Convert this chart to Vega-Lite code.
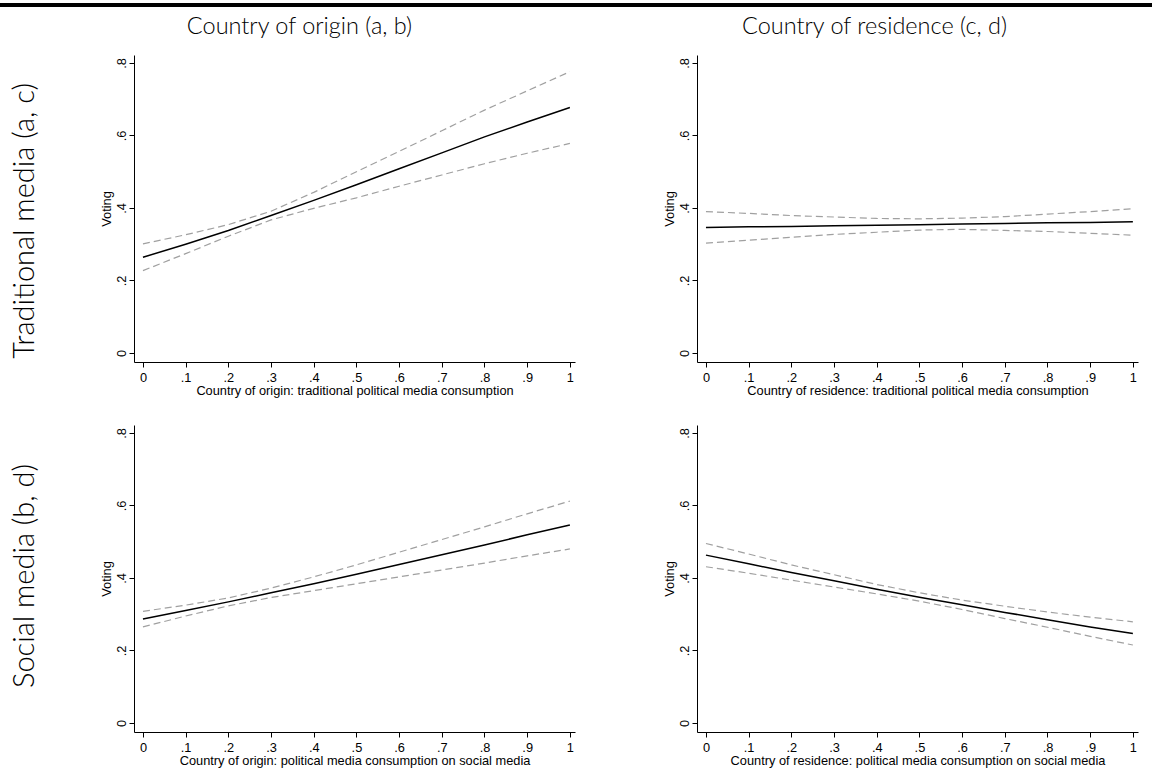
{
  "$schema": "https://vega.github.io/schema/vega-lite/v6.json",
  "background": "white",
  "padding": {"left": 0, "top": 3, "right": 0, "bottom": 0},
  "spacing": 8,
  "config": {
    "view": {"stroke": null},
    "axis": {"grid": false, "domainColor": "black", "domainWidth": 1, "tickColor": "black", "tickSize": 5, "tickWidth": 1, "labelFont": "Liberation Sans", "labelFontSize": 12.8, "labelColor": "black", "titleFont": "Liberation Sans", "titleFontSize": 12.8, "titleFontWeight": "normal", "titleColor": "black", "labelFlush": false, "labelOverlap": false},
    "axisX": {"labelPadding": 4, "titlePadding": 1, "labelAngle": 0},
    "axisY": {"labelAngle": 270, "labelAlign": "center", "labelBaseline": "alphabetic", "labelPadding": 4, "titlePadding": 2}
  },
  "datasets": {
    "m": [
      {"p": "a", "x": 0, "est": 0.264, "lo": 0.227, "hi": 0.301},
      {"p": "a", "x": 0.1, "est": 0.300, "lo": 0.274, "hi": 0.326},
      {"p": "a", "x": 0.2, "est": 0.338, "lo": 0.322, "hi": 0.354},
      {"p": "a", "x": 0.3, "est": 0.379, "lo": 0.367, "hi": 0.391},
      {"p": "a", "x": 0.4, "est": 0.421, "lo": 0.399, "hi": 0.443},
      {"p": "a", "x": 0.5, "est": 0.464, "lo": 0.428, "hi": 0.500},
      {"p": "a", "x": 0.6, "est": 0.508, "lo": 0.460, "hi": 0.556},
      {"p": "a", "x": 0.7, "est": 0.552, "lo": 0.491, "hi": 0.613},
      {"p": "a", "x": 0.8, "est": 0.596, "lo": 0.522, "hi": 0.670},
      {"p": "a", "x": 0.9, "est": 0.637, "lo": 0.551, "hi": 0.723},
      {"p": "a", "x": 1, "est": 0.677, "lo": 0.578, "hi": 0.776},
      {"p": "b", "x": 0, "est": 0.287, "lo": 0.265, "hi": 0.308},
      {"p": "b", "x": 0.1, "est": 0.310, "lo": 0.295, "hi": 0.325},
      {"p": "b", "x": 0.2, "est": 0.334, "lo": 0.323, "hi": 0.345},
      {"p": "b", "x": 0.3, "est": 0.359, "lo": 0.346, "hi": 0.372},
      {"p": "b", "x": 0.4, "est": 0.384, "lo": 0.365, "hi": 0.403},
      {"p": "b", "x": 0.5, "est": 0.410, "lo": 0.384, "hi": 0.436},
      {"p": "b", "x": 0.6, "est": 0.437, "lo": 0.403, "hi": 0.471},
      {"p": "b", "x": 0.7, "est": 0.464, "lo": 0.422, "hi": 0.506},
      {"p": "b", "x": 0.8, "est": 0.491, "lo": 0.441, "hi": 0.541},
      {"p": "b", "x": 0.9, "est": 0.519, "lo": 0.461, "hi": 0.577},
      {"p": "b", "x": 1, "est": 0.546, "lo": 0.480, "hi": 0.612},
      {"p": "c", "x": 0, "est": 0.346, "lo": 0.303, "hi": 0.390},
      {"p": "c", "x": 0.1, "est": 0.348, "lo": 0.311, "hi": 0.385},
      {"p": "c", "x": 0.2, "est": 0.349, "lo": 0.319, "hi": 0.379},
      {"p": "c", "x": 0.3, "est": 0.351, "lo": 0.327, "hi": 0.375},
      {"p": "c", "x": 0.4, "est": 0.352, "lo": 0.333, "hi": 0.371},
      {"p": "c", "x": 0.5, "est": 0.354, "lo": 0.339, "hi": 0.370},
      {"p": "c", "x": 0.6, "est": 0.356, "lo": 0.341, "hi": 0.372},
      {"p": "c", "x": 0.7, "est": 0.357, "lo": 0.338, "hi": 0.376},
      {"p": "c", "x": 0.8, "est": 0.359, "lo": 0.335, "hi": 0.383},
      {"p": "c", "x": 0.9, "est": 0.360, "lo": 0.330, "hi": 0.390},
      {"p": "c", "x": 1, "est": 0.362, "lo": 0.325, "hi": 0.398},
      {"p": "d", "x": 0, "est": 0.463, "lo": 0.431, "hi": 0.495},
      {"p": "d", "x": 0.1, "est": 0.439, "lo": 0.413, "hi": 0.466},
      {"p": "d", "x": 0.2, "est": 0.415, "lo": 0.394, "hi": 0.436},
      {"p": "d", "x": 0.3, "est": 0.392, "lo": 0.375, "hi": 0.409},
      {"p": "d", "x": 0.4, "est": 0.369, "lo": 0.356, "hi": 0.382},
      {"p": "d", "x": 0.5, "est": 0.347, "lo": 0.336, "hi": 0.359},
      {"p": "d", "x": 0.6, "est": 0.326, "lo": 0.313, "hi": 0.339},
      {"p": "d", "x": 0.7, "est": 0.305, "lo": 0.288, "hi": 0.322},
      {"p": "d", "x": 0.8, "est": 0.285, "lo": 0.264, "hi": 0.306},
      {"p": "d", "x": 0.9, "est": 0.265, "lo": 0.239, "hi": 0.292},
      {"p": "d", "x": 1, "est": 0.247, "lo": 0.215, "hi": 0.279}
    ]
  },
  "vconcat": [
    {
      "width": 1152, "height": 4,
      "data": {"values": [{"x": 0, "x2": 1, "y": 0, "y2": 1}]},
      "mark": {"type": "rect", "color": "black"},
      "encoding": {
        "x": {"field": "x", "type": "quantitative", "scale": {"domain": [0, 1], "nice": false, "zero": false}, "axis": null},
        "x2": {"field": "x2"},
        "y": {"field": "y", "type": "quantitative", "scale": {"domain": [0, 1], "nice": false, "zero": false}, "axis": null},
        "y2": {"field": "y2"}
      }
    },
    {
      "spacing": 27,
      "vconcat": [
        {
          "spacing": 50,
          "hconcat": [
            {
              "width": 50, "height": 56,
              "data": {"values": [{"label": "Traditional media (a, c)"}]},
              "mark": {"type": "text", "angle": 270, "align": "right", "baseline": "middle", "font": "Lato", "fontSize": 29, "fontWeight": 300, "color": "black"},
              "encoding": {"text": {"field": "label", "type": "nominal"}}
            },
            {
              "spacing": 88,
              "hconcat": [
                {
                  "width": 441, "height": 307,
                  "data": {"name": "m"},
                  "transform": [{"filter": "datum.p == 'a'"}],
                  "title": {"text": "Country of origin (a, b)", "font": "Lato", "fontSize": 23.5, "fontWeight": 300, "color": "black", "anchor": "middle", "frame": "group", "dx": -55, "offset": 16.5, "baseline": "top"},
                  "encoding": {"x": {"field": "x", "type": "quantitative", "title": "Country of origin: traditional political media consumption", "scale": {"domain": [-0.021, 1.012], "nice": false, "zero": false}, "axis": {"values": [0, 0.1, 0.2, 0.3, 0.4, 0.5, 0.6, 0.7, 0.8, 0.9, 1], "labelExpr": "datum.value == 0 ? '0' : datum.value == 1 ? '1' : '.' + format(datum.value * 10, '.0f')"}}},
                  "layer": [
                    {"mark": {"type": "line", "color": "#a0a0a0", "strokeWidth": 1.2, "strokeDash": [7, 4]}, "encoding": {"y": {"field": "hi", "type": "quantitative", "title": "Voting", "scale": {"domain": [-0.025, 0.822], "nice": false, "zero": false}, "axis": {"values": [0, 0.2, 0.4, 0.6, 0.8], "labelExpr": "datum.value == 0 ? '0' : '.' + format(datum.value * 10, '.0f')"}}}},
                    {"mark": {"type": "line", "color": "#a0a0a0", "strokeWidth": 1.2, "strokeDash": [7, 4]}, "encoding": {"y": {"field": "lo", "type": "quantitative", "title": "Voting"}}},
                    {"mark": {"type": "line", "color": "black", "strokeWidth": 1.5}, "encoding": {"y": {"field": "est", "type": "quantitative", "title": "Voting"}}}
                  ]
                },
                {
                  "width": 441, "height": 307,
                  "data": {"name": "m"},
                  "transform": [{"filter": "datum.p == 'c'"}],
                  "title": {"text": "Country of residence (c, d)", "font": "Lato", "fontSize": 23.5, "fontWeight": 300, "color": "black", "anchor": "middle", "frame": "group", "dx": -43, "offset": 16.5, "baseline": "top"},
                  "encoding": {"x": {"field": "x", "type": "quantitative", "title": "Country of residence: traditional political media consumption", "scale": {"domain": [-0.021, 1.012], "nice": false, "zero": false}, "axis": {"values": [0, 0.1, 0.2, 0.3, 0.4, 0.5, 0.6, 0.7, 0.8, 0.9, 1], "labelExpr": "datum.value == 0 ? '0' : datum.value == 1 ? '1' : '.' + format(datum.value * 10, '.0f')"}}},
                  "layer": [
                    {"mark": {"type": "line", "color": "#a0a0a0", "strokeWidth": 1.2, "strokeDash": [7, 4]}, "encoding": {"y": {"field": "hi", "type": "quantitative", "title": "Voting", "scale": {"domain": [-0.025, 0.822], "nice": false, "zero": false}, "axis": {"values": [0, 0.2, 0.4, 0.6, 0.8], "labelExpr": "datum.value == 0 ? '0' : '.' + format(datum.value * 10, '.0f')"}}}},
                    {"mark": {"type": "line", "color": "#a0a0a0", "strokeWidth": 1.2, "strokeDash": [7, 4]}, "encoding": {"y": {"field": "lo", "type": "quantitative", "title": "Voting"}}},
                    {"mark": {"type": "line", "color": "black", "strokeWidth": 1.5}, "encoding": {"y": {"field": "est", "type": "quantitative", "title": "Voting"}}}
                  ]
                }
              ]
            }
          ]
        },
        {
          "spacing": 50,
          "hconcat": [
            {
              "width": 50, "height": 302,
              "data": {"values": [{"label": "Social media (b, d)"}]},
              "mark": {"type": "text", "angle": 270, "align": "center", "baseline": "middle", "font": "Lato", "fontSize": 29, "fontWeight": 300, "color": "black"},
              "encoding": {"text": {"field": "label", "type": "nominal"}}
            },
            {
              "spacing": 88,
              "hconcat": [
                {
                  "width": 441, "height": 307,
                  "data": {"name": "m"},
                  "transform": [{"filter": "datum.p == 'b'"}],
                  "encoding": {"x": {"field": "x", "type": "quantitative", "title": "Country of origin: political media consumption on social media", "scale": {"domain": [-0.021, 1.012], "nice": false, "zero": false}, "axis": {"values": [0, 0.1, 0.2, 0.3, 0.4, 0.5, 0.6, 0.7, 0.8, 0.9, 1], "labelExpr": "datum.value == 0 ? '0' : datum.value == 1 ? '1' : '.' + format(datum.value * 10, '.0f')"}}},
                  "layer": [
                    {"mark": {"type": "line", "color": "#a0a0a0", "strokeWidth": 1.2, "strokeDash": [7, 4]}, "encoding": {"y": {"field": "hi", "type": "quantitative", "title": "Voting", "scale": {"domain": [-0.025, 0.822], "nice": false, "zero": false}, "axis": {"values": [0, 0.2, 0.4, 0.6, 0.8], "labelExpr": "datum.value == 0 ? '0' : '.' + format(datum.value * 10, '.0f')"}}}},
                    {"mark": {"type": "line", "color": "#a0a0a0", "strokeWidth": 1.2, "strokeDash": [7, 4]}, "encoding": {"y": {"field": "lo", "type": "quantitative", "title": "Voting"}}},
                    {"mark": {"type": "line", "color": "black", "strokeWidth": 1.5}, "encoding": {"y": {"field": "est", "type": "quantitative", "title": "Voting"}}}
                  ]
                },
                {
                  "width": 441, "height": 307,
                  "data": {"name": "m"},
                  "transform": [{"filter": "datum.p == 'd'"}],
                  "encoding": {"x": {"field": "x", "type": "quantitative", "title": "Country of residence: political media consumption on social media", "scale": {"domain": [-0.021, 1.012], "nice": false, "zero": false}, "axis": {"values": [0, 0.1, 0.2, 0.3, 0.4, 0.5, 0.6, 0.7, 0.8, 0.9, 1], "labelExpr": "datum.value == 0 ? '0' : datum.value == 1 ? '1' : '.' + format(datum.value * 10, '.0f')"}}},
                  "layer": [
                    {"mark": {"type": "line", "color": "#a0a0a0", "strokeWidth": 1.2, "strokeDash": [7, 4]}, "encoding": {"y": {"field": "hi", "type": "quantitative", "title": "Voting", "scale": {"domain": [-0.025, 0.822], "nice": false, "zero": false}, "axis": {"values": [0, 0.2, 0.4, 0.6, 0.8], "labelExpr": "datum.value == 0 ? '0' : '.' + format(datum.value * 10, '.0f')"}}}},
                    {"mark": {"type": "line", "color": "#a0a0a0", "strokeWidth": 1.2, "strokeDash": [7, 4]}, "encoding": {"y": {"field": "lo", "type": "quantitative", "title": "Voting"}}},
                    {"mark": {"type": "line", "color": "black", "strokeWidth": 1.5}, "encoding": {"y": {"field": "est", "type": "quantitative", "title": "Voting"}}}
                  ]
                }
              ]
            }
          ]
        }
      ]
    }
  ]
}
